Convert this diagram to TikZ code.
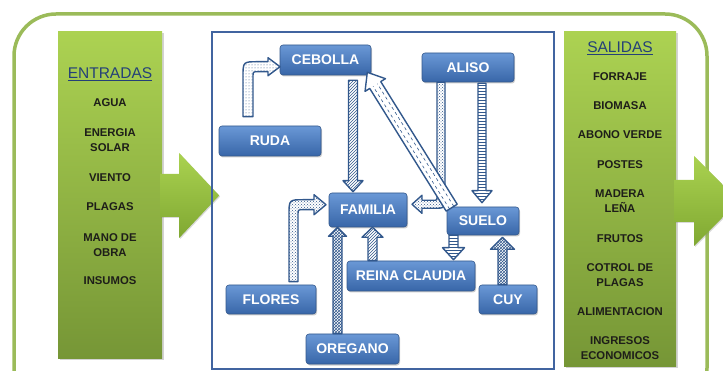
\documentclass[tikz,border=0pt]{standalone}
\usepackage{fontspec}
\setmainfont{Liberation Sans}
\usetikzlibrary{calc,patterns,shadows}
\definecolor{outergreen}{RGB}{155,187,89}
\definecolor{pgtop}{RGB}{172,210,82}
\definecolor{pgbot}{RGB}{118,150,54}
\definecolor{agtop}{RGB}{170,210,80}
\definecolor{agbot}{RGB}{128,168,50}
\definecolor{frameblue}{RGB}{65,100,160}
\definecolor{ntop}{RGB}{106,152,214}
\definecolor{nbot}{RGB}{56,102,168}
\definecolor{nedge}{RGB}{52,88,140}
\definecolor{aedge}{RGB}{50,88,140}
\definecolor{titleblue}{RGB}{36,64,120}
\definecolor{itemtext}{RGB}{30,30,25}
\newcommand\blockarr[6][]{%
  \coordinate (bah) at ($(#3)!#6!(#2)$);
  \draw[#1] ($(#2)!#4!90:(#3)$) -- ($(bah)!#4!90:(#3)$) -- ($(bah)!#5!90:(#3)$) -- (#3)
    -- ($(bah)!#5!-90:(#3)$) -- ($(bah)!#4!-90:(#3)$) -- ($(#2)!#4!-90:(#3)$) -- cycle;}
\begin{document}
\begin{tikzpicture}[x=1pt,y=-1pt,
  panel/.style={draw=none, top color=pgtop, bottom color=pgbot, inner sep=0pt,
    drop shadow={shadow xshift=1.5pt, shadow yshift=-1.5pt, opacity=0.35}},
  greenarrow/.style={draw=none, top color=agtop, bottom color=agbot,
    drop shadow={shadow xshift=1pt, shadow yshift=-1pt, opacity=0.3}},
  bnode/.style={rounded corners=3pt, top color=ntop, bottom color=nbot, draw=nedge, line width=0.6pt,
    text=white, font=\bfseries\fontsize{14}{14}\selectfont, inner sep=0pt,
    drop shadow={shadow xshift=1pt, shadow yshift=-1.5pt, opacity=0.4}},
  item/.style={font=\bfseries\fontsize{11.3}{15}\selectfont, text=itemtext, align=center, inner sep=0pt},
  ttl/.style={font=\fontsize{15.5}{16}\selectfont, text=titleblue, inner sep=0pt},
  barrow/.style={draw=aedge, line width=1.4pt, line join=round, preaction={fill=white}, pattern color=aedge}
]
\useasboundingbox (0,0) rectangle (723,371);
% outer border
\draw[outergreen, line width=3.5pt, rounded corners=42pt] (14,14) rectangle (707,410);
% panels
\node[panel, minimum width=104pt, minimum height=326pt] (entr) at (110,195) {};
\node[panel, minimum width=112pt, minimum height=334pt] (sal) at (620,199) {};
% green arrows
\coordinate (ga1) at ($(entr.east)+(-2,0.5)$);
\coordinate (gb1) at ($(entr.east)+(57,0.5)$);
\blockarr[greenarrow]{ga1}{gb1}{21.5pt}{42.5pt}{40pt}
\coordinate (ga2) at ($(sal.east)+(-2,2)$);
\coordinate (gb2) at ($(sal.east)+(63,2)$);
\blockarr[greenarrow]{ga2}{gb2}{21pt}{45pt}{45pt}
% frame
\draw[frameblue, line width=1.5pt] (212,32) rectangle (554,369);
% texts
\node[ttl] (tin) at (110,74) {\underline{ENTRADAS}};
\node[item] (i1) at (110,103) {AGUA};
\node[item] (i2) at (110,140.5) {ENERGIA\\SOLAR};
\node[item] (i3) at (110,178) {VIENTO};
\node[item] (i4) at (110,207) {PLAGAS};
\node[item] (i5) at (110,245) {MANO DE\\OBRA};
\node[item] (i6) at (110,281) {INSUMOS};
\node[ttl] (tout) at (620,48) {\underline{SALIDAS}};
\node[item] (o1) at (620,77) {FORRAJE};
\node[item] (o2) at (620,106) {BIOMASA};
\node[item] (o3) at (620,135) {ABONO VERDE};
\node[item] (o4) at (620,165) {POSTES};
\node[item] (o5) at (620,201) {MADERA\\LEÑA};
\node[item] (o6) at (620,239) {FRUTOS};
\node[item] (o7) at (620,275.5) {COTROL DE\\PLAGAS};
\node[item] (o8) at (620,312) {ALIMENTACION};
\node[item] (o9) at (620,348.5) {INGRESOS\\ECONOMICOS};
% blue nodes
\node[bnode, minimum width=91pt, minimum height=30pt] (cebolla) at (325.5,60) {CEBOLLA};
\node[bnode, minimum width=92pt, minimum height=29pt] (aliso) at (468,67.5) {ALISO};
\node[bnode, minimum width=102pt, minimum height=30pt] (ruda) at (270,141) {RUDA};
\node[bnode, minimum width=78pt, minimum height=34pt] (familia) at (368,210) {FAMILIA};
\node[bnode, minimum width=72pt, minimum height=28pt] (suelo) at (483,221) {SUELO};
\node[bnode, minimum width=128pt, minimum height=30pt] (reina) at (411,276) {REINA CLAUDIA};
\node[bnode, minimum width=90pt, minimum height=29pt] (flores) at (271,299.5) {FLORES};
\node[bnode, minimum width=58pt, minimum height=29pt] (cuy) at (508,299.5) {CUY};
\node[bnode, minimum width=93pt, minimum height=30pt] (oregano) at (352.5,349) {OREGANO};
% RUDA -> CEBOLLA (bent)
\draw[barrow, pattern=dots, shift={(ruda.north)}]
  (-27,-9) -- (-27,-49) .. controls (-27,-64) .. (-12,-64) -- (-2,-64) -- (-2,-68) -- (10,-59)
  -- (-2,-50) -- (-2,-54) -- (-12,-54) .. controls (-17,-54) .. (-17,-49) -- (-17,-9) -- cycle;
% CEBOLLA -> FAMILIA
\coordinate (c2a) at ($(cebolla.south)+(27.5,5)$);
\coordinate (c2b) at ($(familia.north)+(-15,-1)$);
\blockarr[barrow, pattern=north east lines]{c2a}{c2b}{4.5pt}{10pt}{11pt}
% ALISO -> FAMILIA (bent)
\draw[barrow, pattern=crosshatch dots, shift={(aliso.south)}]
  (-31,0) -- (-31,114) .. controls (-31,118) .. (-35,118) -- (-46,118) -- (-46,113) -- (-56,122)
  -- (-46,131) -- (-46,126) -- (-35,126) .. controls (-23,126) .. (-23,114) -- (-23,0) -- cycle;
% SUELO -> CEBOLLA (diagonal)
\coordinate (c3a) at ($(suelo.north west)+(5,1)$);
\coordinate (c3b) at ($(cebolla.south east)+(-4,-3)$);
\blockarr[barrow]{c3a}{c3b}{6.5pt}{12pt}{15pt}
\draw[aedge, line width=0.6pt, dash pattern=on 3pt off 3pt] ($(c3a)!2.5pt!90:(bah)$) -- ($(bah)!2.5pt!-90:(c3a)$);
\draw[aedge, line width=0.6pt, dash pattern=on 3pt off 3pt] ($(c3a)!2.5pt!-90:(bah)$) -- ($(bah)!2.5pt!90:(c3a)$);
% ALISO -> SUELO
\coordinate (c5a) at ($(aliso.south)+(14,1)$);
\coordinate (c5b) at ($(suelo.north)+(-1,-4)$);
\blockarr[barrow, pattern=horizontal lines]{c5a}{c5b}{4pt}{10pt}{12pt}
% FLORES -> FAMILIA (bent)
\draw[barrow, pattern=crosshatch dots, shift={(flores.north)}]
  (18,-3) -- (18,-70) .. controls (18,-85) .. (33,-85) -- (43,-85) -- (43,-90) -- (55,-80)
  -- (43,-70) -- (43,-75) -- (32,-75) .. controls (27,-75) .. (27,-70) -- (27,-3) -- cycle;
% OREGANO -> FAMILIA
\coordinate (c7a) at ($(oregano.north)+(-15,0)$);
\coordinate (c7b) at ($(familia.south)+(-30.5,0)$);
\blockarr[barrow, pattern=crosshatch]{c7a}{c7b}{4.5pt}{9pt}{9pt}
% REINA CLAUDIA -> FAMILIA
\coordinate (c8a) at ($(reina.north)+(-38.5,0)$);
\coordinate (c8b) at ($(familia.south)+(4.5,0)$);
\blockarr[barrow, pattern=north east lines]{c8a}{c8b}{4.5pt}{10.5pt}{10pt}
% SUELO -> REINA CLAUDIA
\coordinate (c9a) at ($(suelo.south)+(-29.5,0)$);
\coordinate (c9b) at ($(reina.north)+(42.5,-1)$);
\blockarr[barrow, pattern=horizontal lines]{c9a}{c9b}{4.5pt}{11pt}{12pt}
% CUY -> SUELO
\coordinate (c10a) at ($(cuy.north)+(-5.5,0)$);
\coordinate (c10b) at ($(suelo.south)+(19.5,2)$);
\blockarr[barrow, pattern=crosshatch]{c10a}{c10b}{4.5pt}{12pt}{12pt}
\end{tikzpicture}
\end{document}
